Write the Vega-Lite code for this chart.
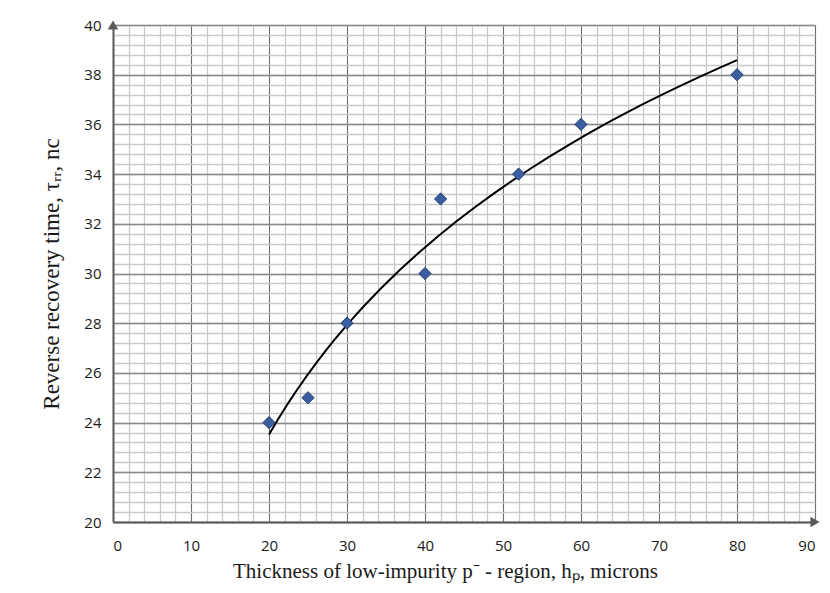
{
  "$schema": "https://vega.github.io/schema/vega-lite/v6.json",
  "autosize": "none",
  "width": 702,
  "height": 497,
  "padding": {"left": 113, "top": 25, "right": 15, "bottom": 71},
  "background": "white",
  "config": {
    "view": {"stroke": null},
    "axis": {"labelFont": "Open Sans", "labelFontSize": 15, "labelColor": "#1a1a1a", "titleFont": "Liberation Serif", "titleFontSize": 21, "titleFontWeight": "normal", "titleColor": "#1a1a1a"}
  },
  "datasets": {
    "pts": [
      {"h": 20, "t": 24},
      {"h": 25, "t": 25},
      {"h": 30, "t": 28},
      {"h": 40, "t": 30},
      {"h": 42, "t": 33},
      {"h": 52, "t": 34},
      {"h": 60, "t": 36},
      {"h": 80, "t": 38}
    ],
    "arrows": [
      {"h": 0, "t": 40, "shape": "triangle-up"},
      {"h": 90, "t": 20, "shape": "triangle-right"}
    ]
  },
  "resolve": {"axis": {"x": "independent", "y": "independent"}},
  "layer": [
    {
      "data": {"name": "pts"},
      "mark": {"type": "point", "opacity": 0},
      "encoding": {
        "x": {"field": "h", "type": "quantitative", "scale": {"domain": [0, 90], "nice": false},
          "axis": {"orient": "bottom", "values": [0,2,4,6,8,10,12,14,16,18,20,22,24,26,28,30,32,34,36,38,40,42,44,46,48,50,52,54,56,58,60,62,64,66,68,70,72,74,76,78,80,82,84,86,88,90], "grid": true, "gridColor": "#c9c9c9", "gridWidth": 1.3, "labels": false, "ticks": false, "domain": false, "title": null}},
        "y": {"field": "t", "type": "quantitative", "scale": {"domain": [20, 40], "nice": false, "zero": false},
          "axis": {"orient": "left", "values": [20,20.4,20.8,21.2,21.6,22,22.4,22.8,23.2,23.6,24,24.4,24.8,25.2,25.6,26,26.4,26.8,27.2,27.6,28,28.4,28.8,29.2,29.6,30,30.4,30.8,31.2,31.6,32,32.4,32.8,33.2,33.6,34,34.4,34.8,35.2,35.6,36,36.4,36.8,37.2,37.6,38,38.4,38.8,39.2,39.6,40], "grid": true, "gridColor": "#c9c9c9", "gridWidth": 1.3, "labels": false, "ticks": false, "domain": false, "title": null}}
      }
    },
    {
      "data": {"name": "pts"},
      "mark": {"type": "point", "opacity": 0},
      "encoding": {
        "x": {"field": "h", "type": "quantitative", "scale": {"domain": [0, 90], "nice": false},
          "axis": {"orient": "bottom", "values": [0,10,20,30,40,50,60,70,80,90], "grid": true, "gridColor": "#6e6e6e", "gridWidth": 1, "ticks": false, "domain": true, "domainColor": "#5a5a5a", "domainWidth": 2, "labelPadding": 16, "title": "Thickness of low-impurity p⁻ - region, hₚ, microns", "titlePadding": 7, "titleX": 332}},
        "y": {"field": "t", "type": "quantitative", "scale": {"domain": [20, 40], "nice": false, "zero": false},
          "axis": {"orient": "left", "values": [20,22,24,26,28,30,32,34,36,38,40], "grid": true, "gridColor": "#8a8a8a", "gridWidth": 1.5, "ticks": false, "domain": true, "domainColor": "#5a5a5a", "domainWidth": 2, "labelPadding": 12, "title": "Reverse recovery time, τᵣᵣ, nc", "titleFontSize": 23, "titlePadding": 20}}
      }
    },
    {
      "data": {"name": "arrows"},
      "mark": {"type": "point", "filled": true, "color": "#5a5a5a", "size": 110, "opacity": 1},
      "encoding": {
        "x": {"field": "h", "type": "quantitative", "axis": null},
        "y": {"field": "t", "type": "quantitative", "axis": null},
        "shape": {"field": "shape", "type": "nominal", "scale": null, "legend": null}
      }
    },
    {
      "data": {"name": "pts"},
      "transform": [{"regression": "t", "on": "h", "method": "log"}],
      "mark": {"type": "line", "color": "#000000", "strokeWidth": 2},
      "encoding": {
        "x": {"field": "h", "type": "quantitative", "axis": null},
        "y": {"field": "t", "type": "quantitative", "axis": null}
      }
    },
    {
      "data": {"name": "pts"},
      "mark": {"type": "point", "shape": "diamond", "filled": true, "color": "#3b5ea0", "stroke": "#24416f", "strokeWidth": 1, "size": 150, "opacity": 1},
      "encoding": {
        "x": {"field": "h", "type": "quantitative", "axis": null},
        "y": {"field": "t", "type": "quantitative", "axis": null}
      }
    }
  ]
}
